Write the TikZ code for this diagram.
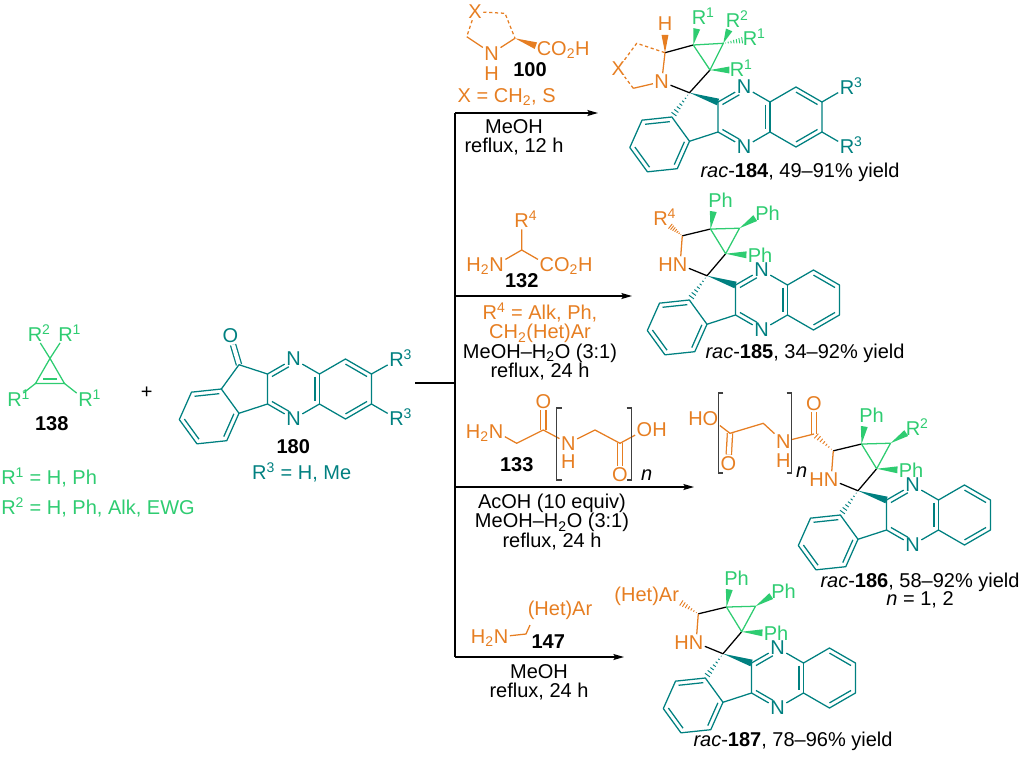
\documentclass[tikz,border=0pt]{standalone}
\usepackage{fontspec}
\setmainfont{Liberation Sans}
\usetikzlibrary{calc,arrows.meta}

\definecolor{qxteal}{RGB}{0,128,128}
\definecolor{cpgreen}{RGB}{46,204,113}
\definecolor{aaorange}{RGB}{230,126,34}

\newcommand{\chemfs}{\fontsize{15}{14.5}\selectfont}
\newcommand{\Rg}[1]{R\rlap{\smash{\textsuperscript{#1}}}}

% inner line of a ring bond
\newcommand{\dbl}[4][]{\draw[bond,#1] ($(#2)!0.17!(#4)$) -- ($(#3)!0.17!(#4)$);}

% bold wedge, narrow at #2
\newcommand{\wedgebond}[4][]{%
  \coordinate (wgend) at ($(#2)!#4!(#3)$);
  \fill[#1] (#2) -- ($(wgend)!2.6pt!90:(#2)$) -- ($(wgend)!2.6pt!-90:(#2)$) -- cycle;}

% hashed wedge, narrow at #2
\newcommand{\hashbond}[4][]{%
  \foreach \hs in {0.1,0.23,...,0.95}{%
    \coordinate (hh) at ($(#2)!{\hs*#4}!(#3)$);
    \draw[#1,line width=0.7pt] ($(hh)!{\hs*2.6pt}!90:(#3)$) -- ($(hh)!{\hs*2.6pt}!-90:(#3)$);}}

% indeno[1,2-b]quinoxaline core, pyrazine centre at (#2,#3)
\newcommand{\indqx}[3]{%
  \begin{scope}[shift={(#2,#3)}]
    \node[atom,qxteal] (#1n1) at (0,-30) {N};
    \node[atom,qxteal] (#1n4) at (0,30) {N};
    \coordinate (#1pz) at (0,0);
    \coordinate (#1c8a) at (25.98,-15);
    \coordinate (#1c4a) at (25.98,15);
    \coordinate (#1c3) at (-25.98,15);
    \coordinate (#1c2) at (-25.98,-15);
    \coordinate (#1bz) at (51.96,0);
    \coordinate (#1c8) at (51.96,-30);
    \coordinate (#1c7) at (77.94,-15);
    \coordinate (#1c6) at (77.94,15);
    \coordinate (#1c5) at (51.96,30);
    \coordinate (#1v2) at (-54.52,-24.27);
    \coordinate (#1v3) at (-72.15,0);
    \coordinate (#1v4) at (-54.52,24.27);
    \coordinate (#1ib) at (-84.36,27.42);
    \coordinate (#1b3) at (-66.73,51.69);
    \coordinate (#1b4) at (-96.56,54.82);
    \coordinate (#1b5) at (-114.2,30.56);
    \coordinate (#1b6) at (-101.99,3.15);
  \end{scope}
  \draw[bond,qxteal] (#1c2) -- (#1n1) -- (#1c8a) -- (#1c8) -- (#1c7) -- (#1c6) -- (#1c5)
    -- (#1c4a) -- (#1n4) -- (#1c3) -- (#1c2);
  \draw[bond,qxteal] (#1c8a) -- (#1c4a);
  \draw[bond,qxteal] (#1c3) -- (#1v4) -- (#1b3) -- (#1b4) -- (#1b5) -- (#1b6) -- (#1v3) -- (#1v4);
  \dbl[qxteal,shorten >=4pt]{#1c2}{#1n1}{#1pz}
  \dbl[qxteal,shorten >=4pt]{#1c3}{#1n4}{#1pz}
  \dbl[qxteal]{#1c8a}{#1c4a}{#1pz}
  \dbl[qxteal]{#1c8}{#1c7}{#1bz}
  \dbl[qxteal]{#1c6}{#1c5}{#1bz}
  \dbl[qxteal]{#1b6}{#1v3}{#1ib}
  \dbl[qxteal]{#1v4}{#1b3}{#1ib}
  \dbl[qxteal]{#1b4}{#1b5}{#1ib}}

% spiro pyrrolidine with cyclopropane, placed from the spiro atom
\newcommand{\spiroring}[2]{%
  \begin{scope}[shift={(#1v2)}]
    \node[atom,aaorange] (#1hn) at (-26.9,-11) {\llap{H}N};
    \coordinate (#1c4) at (-24.7,-39.9);
    \coordinate (#1p1) at (3.5,-46.7);
    \coordinate (#1p2) at (18.7,-22);
    \coordinate (#1p3) at (32.5,-47.5);
    \node[atom,cpgreen] (#1ph1) at (8,-75) {P\rlap{h}};
    \node[atom,cpgreen] (#1ph2) at (47.5,-20.5) {P\rlap{h}};
    \node[atom,cpgreen] (#1s3) at (55,-62) {#2};
  \end{scope}
  \wedgebond[qxteal]{#1v2}{#1c2}{1}
  \hashbond[qxteal]{#1v2}{#1v3}{1}
  \draw[bond] (#1hn) -- (#1v2) -- (#1p2);
  \draw[bond] (#1c4) -- (#1p1);
  \draw[bond,aaorange] (#1hn) -- (#1c4);
  \draw[bond,cpgreen] (#1p1) -- (#1p2) -- (#1p3) -- cycle;
  \wedgebond[cpgreen]{#1p1}{#1ph1}{0.62}
  \wedgebond[cpgreen]{#1p2}{#1ph2}{0.72}
  \wedgebond[cpgreen]{#1p3}{#1s3}{0.7}}

\begin{document}
\begin{tikzpicture}[x=0.75pt,y=-0.75pt,
    bond/.style={line width=0.95pt,line join=round},
    dashbond/.style={bond,dash pattern=on 2.4pt off 2pt},
    dblbond/.style={line width=0.95pt,double distance=3pt},
    atom/.style={font=\chemfs,inner sep=1pt},
    txt/.style={font=\chemfs,align=center,inner sep=0pt},
    rxn/.style={line width=0.95pt},
    brk/.style={line width=0.8pt,black!75}]

  \useasboundingbox (0,0) rectangle (1024,757);

  % 138
  \coordinate (cpa) at (35.5,383.5);
  \coordinate (cpb) at (64.5,383.5);
  \coordinate (cpc) at (50,358.4);
  \coordinate (cpm) at (50,375.1);
  \node[atom,cpgreen] (g2) at (35,334.5) {\Rg{2}};
  \node[atom,cpgreen] (g1t) at (65.5,334.5) {\Rg{1}};
  \node[atom,cpgreen] (g1l) at (14.5,400) {\Rg{1}};
  \node[atom,cpgreen] (g1r) at (85.5,400) {\Rg{1}};
  \draw[bond,cpgreen] (cpa) -- (cpb) -- (cpc) -- cycle;
  \draw[bond,cpgreen] ($(cpa)!0.55!(cpm)$) -- ($(cpb)!0.55!(cpm)$);
  \draw[bond,cpgreen] (cpc) -- (g2) (cpc) -- (g1t) (cpa) -- (g1l) (cpb) -- (g1r);
  \node[txt] at (51.7,423.3) {\textbf{138}};
  \node[txt] at (146.7,393) {+};
  \node[txt,cpgreen,anchor=west] at (1,477) {R\textsuperscript{1} = H, Ph};
  \node[txt,cpgreen,anchor=west] at (1,507) {R\textsuperscript{2} = H, Ph, Alk, EWG};

  % 180
  \indqx{k}{293.5}{389}
  \node[atom,qxteal] (ko) at (230.5,336) {O};
  \draw[dblbond,qxteal] (kv2) -- (ko);
  \draw[bond,qxteal] (kc2) -- (kv2) -- (kv3);
  \node[atom,qxteal] (k3a) at (396.5,360) {\Rg{3}};
  \node[atom,qxteal] (k3b) at (396.5,418.5) {\Rg{3}};
  \draw[bond,qxteal] (kc7) -- (k3a) (kc6) -- (k3b);
  \node[txt] at (293.3,446.7) {\textbf{180}};
  \node[txt,qxteal] at (301.7,472) {R\textsuperscript{3} = H, Me};

  % arrows
  \coordinate (jn) at (415,383);
  \coordinate (jm) at (455,383);
  \coordinate (j1) at (455,113);
  \coordinate (j2) at (455,296);
  \coordinate (j3) at (455,487);
  \coordinate (j4) at (455,657);
  \coordinate (e1) at (598,113);
  \coordinate (e2) at (632,296);
  \coordinate (e3) at (694,487);
  \coordinate (e4) at (624,657);
  \draw[rxn] (jn) -- (jm);
  \draw[rxn] (j1) -- (j4);
  \foreach \r in {1,2,3,4}
    \draw[rxn,-{Stealth[length=8pt,width=4.5pt,inset=1.5pt]}] (j\r) -- (e\r);

  % 100
  \node[atom,aaorange] (prox) at (475,11.7) {X};
  \coordinate (proa) at (505,13.3);
  \coordinate (prob) at (515,38.3);
  \coordinate (proc) at (466.7,36.7);
  \node[atom,aaorange] (pron) at (491.7,53.3) {N};
  \node[txt,aaorange] at (491.7,73.3) {H};
  \node[atom,aaorange] (proco) at (544,48.5) {C\rlap{\smash{O\textsubscript{2}H}}};
  \draw[dashbond,aaorange] (prox) -- (proa) -- (prob);
  \draw[dashbond,aaorange] (prox) -- (proc);
  \draw[bond,aaorange] (proc) -- (pron) -- (prob);
  \wedgebond[aaorange]{prob}{proco}{0.72}
  \node[txt] at (530,70) {\textbf{100}};
  \node[txt,aaorange] at (506.7,96.7) {X = CH\textsubscript{2}, S};
  \node[txt] at (514,137.5) {MeOH\\reflux, 12 h};

  % 184
  \indqx{a}{744}{117}
  \wedgebond[qxteal]{av2}{ac2}{1}
  \hashbond[qxteal]{av2}{av3}{1}
  \node[atom,aaorange] (an) at (661.7,81.7) {N};
  \coordinate (a7a) at (665,52.7);
  \node[atom,aaorange] (ah) at (665,24) {H};
  \coordinate (acp1) at (693.3,45);
  \coordinate (acp2) at (710,70);
  \coordinate (acp3) at (723.3,43.3);
  \node[atom,aaorange] (ax) at (618.3,68.3) {X};
  \coordinate (acu) at (636.7,43.3);
  \coordinate (acl) at (633.3,88.3);
  \node[atom,cpgreen] (ar1a) at (699,18) {\Rg{1}};
  \node[atom,cpgreen] (ar1b) at (737,70) {\Rg{1}};
  \node[atom,cpgreen] (ar2) at (733,21) {\Rg{2}};
  \node[atom,cpgreen] (ar1c) at (750,39) {\Rg{1}};
  \draw[bond] (an) -- (av2) -- (acp2);
  \draw[bond] (a7a) -- (acp1);
  \draw[bond,aaorange] (a7a) -- (an) -- (acl);
  \draw[dashbond,aaorange] (acl) -- (ax) -- (acu) -- (a7a);
  \draw[bond,cpgreen] (acp1) -- (acp2) -- (acp3) -- cycle;
  \wedgebond[aaorange]{a7a}{ah}{0.62}
  \wedgebond[cpgreen]{acp1}{ar1a}{0.6}
  \wedgebond[cpgreen]{acp2}{ar1b}{0.72}
  \wedgebond[cpgreen]{acp3}{ar2}{0.6}
  \hashbond[cpgreen]{acp3}{ar1c}{0.8}
  \node[atom,qxteal] (ar3a) at (847,87.5) {\Rg{3}};
  \node[atom,qxteal] (ar3b) at (847,146.5) {\Rg{3}};
  \draw[bond,qxteal] (ac7) -- (ar3a) (ac6) -- (ar3b);
  \node[txt] at (800,172) {\textit{rac}-\textbf{184}, 49--91\% yield};

  % 132
  \node[atom,aaorange] (aar) at (521.7,221) {\Rg{4}};
  \coordinate (aac) at (521.7,250);
  \node[atom,aaorange] (aan) at (496.6,264.5) {\llap{\smash{H\textsubscript{2}}}N};
  \node[atom,aaorange] (aaco) at (546.8,264.5) {C\rlap{\smash{O\textsubscript{2}H}}};
  \draw[bond,aaorange] (aar) -- (aac) -- (aan) (aac) -- (aaco);
  \node[txt] at (521.7,281) {\textbf{132}};
  \node[txt] at (540,341.5) {\textcolor{aaorange}{R\textsuperscript{4} = Alk, Ph,}\\
    \textcolor{aaorange}{CH\textsubscript{2}(Het)Ar}\\MeOH--H\textsubscript{2}O (3:1)\\reflux, 24 h};

  % 185
  \indqx{b}{761.5}{300}
  \spiroring{b}{P\rlap{h}}
  \node[atom,aaorange] (br4) at ($(bv2)+(-46.5,-57.5)$) {\Rg{4}};
  \hashbond[aaorange]{bc4}{br4}{0.62}
  \node[txt] at (805,353) {\textit{rac}-\textbf{185}, 34--92\% yield};

  % 133
  \node[atom,aaorange] (gn) at (496,431.7) {\llap{\smash{H\textsubscript{2}}}N};
  \coordinate (gc1) at (516.7,443.3);
  \coordinate (gc2) at (543.3,430);
  \node[atom,aaorange] (go1) at (543.3,401.7) {O};
  \node[atom,aaorange] (gnh) at (568.3,443.3) {N};
  \node[txt,aaorange] at (568.3,461.7) {H};
  \coordinate (gc3) at (595,430);
  \coordinate (gc4) at (620,443.3);
  \node[atom,aaorange] (go2) at (620,475) {O};
  \node[atom,aaorange] (goh) at (644.5,430) {O\rlap{H}};
  \draw[dblbond,aaorange] (gc2) -- (go1);
  \draw[dblbond,aaorange] (gc4) -- (go2);
  \draw[bond,aaorange] (gn) -- (gc1) -- (gc2) -- (gnh) -- (gc3) -- (gc4) -- (goh);
  \draw[brk] (561.7,408) -- (556.7,408) -- (556.7,480) -- (561.7,480);
  \draw[brk] (626.7,408) -- (631.7,408) -- (631.7,480) -- (626.7,480);
  \node[txt] at (646.7,475) {\textit{n}};
  \node[txt] at (516.7,465) {\textbf{133}};
  \node[txt] at (552,522) {AcOH (10 equiv)\\MeOH--H\textsubscript{2}O (3:1)\\reflux, 24 h};

  % 186
  \indqx{c}{912.5}{515}
  \spiroring{c}{\Rg{2}}
  \coordinate (cam) at (814,434);
  \node[atom,aaorange] (cao) at (814,403.5) {O};
  \node[atom,aaorange] (can) at (783.3,441.7) {N};
  \node[txt,aaorange] at (783.3,460.5) {H};
  \coordinate (cch2) at (763.3,423.3);
  \coordinate (cac) at (730,433.3);
  \node[atom,aaorange] (caco) at (728.3,463.3) {O};
  \node[atom,aaorange] (caoh) at (710.5,418.3) {\llap{H}O};
  \draw[dblbond,aaorange] (cam) -- (cao);
  \draw[dblbond,aaorange] (cac) -- (caco);
  \hashbond[aaorange]{cc4}{cam}{1}
  \draw[bond,aaorange] (cam) -- (can) -- (cch2) -- (cac) -- (caoh);
  \draw[brk] (723.3,393) -- (718.3,393) -- (718.3,473) -- (723.3,473);
  \draw[brk] (786.7,393) -- (791.7,393) -- (791.7,473) -- (786.7,473);
  \node[txt] at (801.7,472) {\textit{n}};
  \node[txt] at (920,582) {\textit{rac}-\textbf{186}, 58--92\% yield};
  \node[txt] at (920,600) {\textit{n} = 1, 2};

  % 147
  \node[atom,aaorange] (zn) at (501,636.7) {\llap{\smash{H\textsubscript{2}}}N};
  \coordinate (zc) at (526,634);
  \node[txt,aaorange] (zar) at (560,610) {(Het)Ar};
  \coordinate (zare) at (530,625);
  \draw[bond,aaorange] (zn) -- (zc) -- (zare);
  \node[txt] at (548.3,641.7) {\textbf{147}};
  \node[txt] at (539,682.5) {MeOH\\reflux, 24 h};

  % 187
  \indqx{d}{777.5}{678}
  \spiroring{d}{P\rlap{h}}
  \node[txt,aaorange] (dar) at (646.7,596.7) {(Het)Ar};
  \coordinate (dare) at (679,601.5);
  \hashbond[aaorange]{dc4}{dare}{1}
  \node[txt] at (793,741) {\textit{rac}-\textbf{187}, 78--96\% yield};

\end{tikzpicture}
\end{document}
